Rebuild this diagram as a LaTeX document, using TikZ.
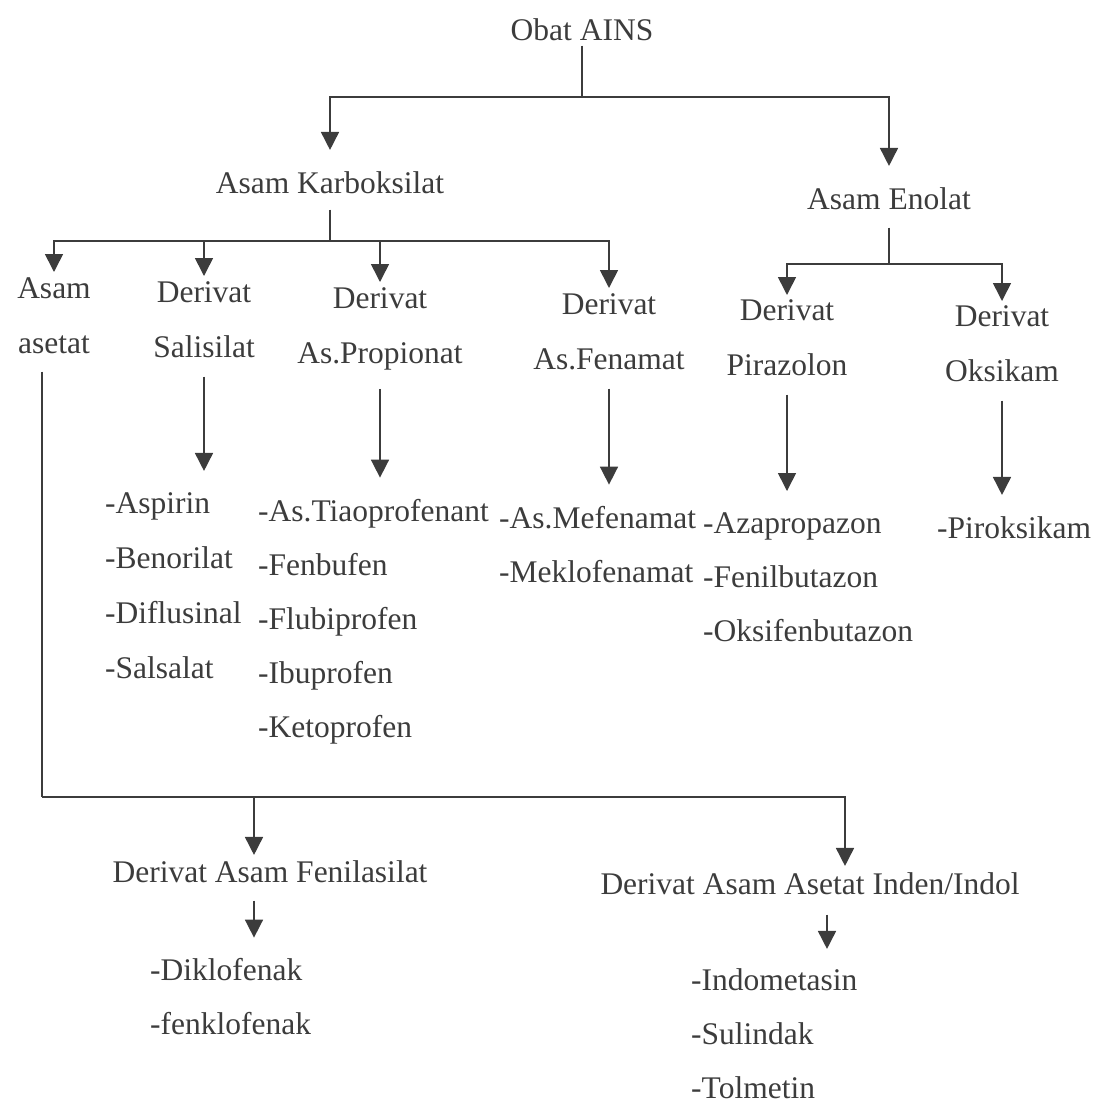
\documentclass[tikz,border=0pt]{standalone}
\usepackage{fontspec}
\setmainfont{Liberation Serif}
\usepackage{xcolor}
\usetikzlibrary{arrows.meta}
\definecolor{tinta}{HTML}{3C3C3C}
\tikzstyle{every node}=[font=\fontsize{31.5}{55}\selectfont, text=tinta, inner sep=0pt]
\tikzstyle{kelas} = [anchor=base]
\tikzstyle{sub} = [anchor=north, align=center]
\tikzstyle{daftar} = [anchor=base west]
\tikzstyle{garis} = [draw=tinta, line width=1.6pt]
\tikzstyle{panah} = [garis, -{Triangle[width=18pt,length=18pt]}]

\begin{document}
\begin{tikzpicture}[x=1pt, y=-1pt]
    \useasboundingbox (0,0) rectangle (1100,1104);
    % Place nodes
    \node [kelas] (ains) at (582,40) {Obat AINS};
    \node [kelas] (karb) at (330,193) {Asam Karboksilat};
    \node [kelas] (enol) at (889,209) {Asam Enolat};
    \node [sub] (aset) at (54,277) {Asam\\asetat};
    \node [sub] (sal) at (204,281) {Derivat\\Salisilat};
    \node [sub] (prop) at (380,287) {Derivat\\As.Propionat};
    \node [sub] (fen) at (609,293) {Derivat\\As.Fenamat};
    \node [sub] (pir) at (787,299) {Derivat\\Pirazolon};
    \node [sub] (oks) at (1002,305) {Derivat\\Oksikam};
    \node [kelas] (fenil) at (270,882) {Derivat Asam Fenilasilat};
    \node [kelas] (inden) at (810,894) {Derivat Asam Asetat Inden/Indol};
    % Lists of drugs
    \foreach \t [count=\i] in {-Aspirin, -Benorilat, -Diflusinal, -Salsalat}
        \node [daftar] (sal-\i) at (105,513+55*\i-55) {\t};
    \foreach \t [count=\i] in {-As.Tiaoprofenant, -Fenbufen, -Flubiprofen, -Ibuprofen, -Ketoprofen}
        \node [daftar] (prop-\i) at (258,521+54*\i-54) {\t};
    \foreach \t [count=\i] in {-As.Mefenamat, -Meklofenamat}
        \node [daftar] (fen-\i) at (499,528+54*\i-54) {\t};
    \foreach \t [count=\i] in {-Azapropazon, -Fenilbutazon, -Oksifenbutazon}
        \node [daftar] (pir-\i) at (703,533+54*\i-54) {\t};
    \node [daftar] (oks-1) at (937,538) {-Piroksikam};
    \foreach \t [count=\i] in {-Diklofenak, -fenklofenak}
        \node [daftar] (fenil-\i) at (150,980+54*\i-54) {\t};
    \foreach \t [count=\i] in {-Indometasin, -Sulindak, -Tolmetin}
        \node [daftar] (inden-\i) at (691,990+54*\i-54) {\t};
    % Junctions
    \coordinate (oj) at (582,97);
    \coordinate (kj) at (330,241);
    \coordinate (ej) at (889,264);
    \coordinate (aj) at (42,797);
    % Draw edges
    \path [garis, shorten <=5pt] (ains.south) -- (oj);
    \path [panah, shorten >=21pt] (oj) -| (karb.north);
    \path [panah, shorten >=21pt] (oj) -| (enol.north);
    \path [garis, shorten <=16pt] (karb.south) -- (kj);
    \foreach \n in {aset, sal, prop, fen}
        \path [panah, shorten >=5pt] (kj) -| (\n.north);
    \path [garis, shorten <=18pt] (enol.south) -- (ej);
    \foreach \n in {pir, oks}
        \path [panah, shorten >=4pt] (ej) -| (\n.north);
    \foreach \n in {sal, prop, fen, pir, oks}
        \path [panah, shorten <=19pt, shorten >=21pt] (\n.south) -- (\n.south |- \n-1.north);
    \path [garis, shorten <=18pt] (aset.south -| aj) -- (aj);
    \path [panah, shorten >=5pt] (aj) -| ([xshift=-16pt]fenil.north);
    \path [panah, shorten >=6pt] (aj) -| ([xshift=35pt]inden.north);
    \path [panah, shorten <=18pt, shorten >=20pt] ([xshift=-16pt]fenil.south) -- ([xshift=-16pt]fenil.south |- fenil-1.north);
    \path [panah, shorten <=20pt, shorten >=19pt] ([xshift=17pt]inden.south) -- ([xshift=17pt]inden.south |- inden-1.north);
\end{tikzpicture}
\end{document}
